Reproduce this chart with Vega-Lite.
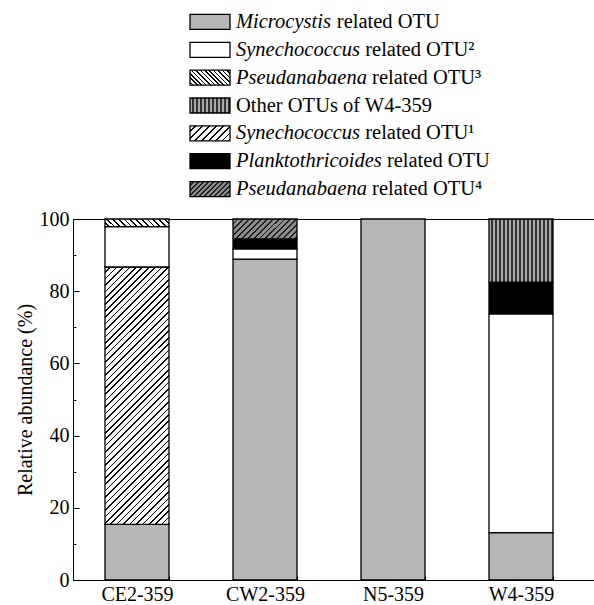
{
"$schema": "https://vega.github.io/schema/vega-lite/v6.json",
"background": "white",
"padding": {"left": 14, "top": 8, "right": 0, "bottom": 0},
"spacing": 5,
"config": {"view": {"stroke": null}, "font": "Liberation Serif, Times New Roman, Times, serif"},
"datasets": {
"bars": [
{"sample":"CE2-359","otu":"Microcystis","value":15.4,"order":1},
{"sample":"CE2-359","otu":"Synechococcus OTU1","value":71.3,"order":2},
{"sample":"CE2-359","otu":"Synechococcus OTU2","value":11.2,"order":3},
{"sample":"CE2-359","otu":"Pseudanabaena OTU3","value":2.1,"order":5},
{"sample":"CW2-359","otu":"Microcystis","value":88.9,"order":1},
{"sample":"CW2-359","otu":"Synechococcus OTU2","value":2.8,"order":3},
{"sample":"CW2-359","otu":"Planktothricoides","value":2.8,"order":4},
{"sample":"CW2-359","otu":"Pseudanabaena OTU4","value":5.5,"order":6},
{"sample":"N5-359","otu":"Microcystis","value":100,"order":1},
{"sample":"W4-359","otu":"Microcystis","value":13.1,"order":1},
{"sample":"W4-359","otu":"Synechococcus OTU2","value":60.6,"order":3},
{"sample":"W4-359","otu":"Planktothricoides","value":8.8,"order":4},
{"sample":"W4-359","otu":"Other OTUs","value":17.5,"order":7}
],
"legend": [
{"item":1,"otu":"Microcystis","name":"Microcystis","rest":"related OTU"},
{"item":2,"otu":"Synechococcus OTU2","name":"Synechococcus","rest":"related OTU²"},
{"item":3,"otu":"Pseudanabaena OTU3","name":"Pseudanabaena","rest":"related OTU³"},
{"item":4,"otu":"Other OTUs","name":"","rest":"Other OTUs of W4-359"},
{"item":5,"otu":"Synechococcus OTU1","name":"Synechococcus","rest":"related OTU¹"},
{"item":6,"otu":"Planktothricoides","name":"Planktothricoides","rest":"related OTU"},
{"item":7,"otu":"Pseudanabaena OTU4","name":"Pseudanabaena","rest":"related OTU⁴"}
]
},
"vconcat": [
{
"width": 274, "height": 195,
"data": {"name": "legend"},
"encoding": {"y": {"field": "item", "type": "ordinal", "axis": null, "scale": {"type": "point", "padding": 0.5}}},
"layer": [
{"mark": {"type": "point", "shape": "M-1,-0.375L1,-0.375L1,0.375L-1,0.375Z", "size": 1600, "filled": true, "opacity": 1, "stroke": "#000", "strokeWidth": 1.3},
 "encoding": {"fill": {"condition": [
  {"test": "datum.otu === 'Synechococcus OTU1'", "value": {"gradient": "linear", "x1": 0, "y1": 0, "x2": 1.2055, "y2": 0.452, "stops": [
{"offset":0,"color":"#fff"},{"offset":0.09,"color":"#fff"},{"offset":0.09,"color":"#000"},{"offset":0.125,"color":"#000"},
{"offset":0.125,"color":"#fff"},{"offset":0.215,"color":"#fff"},{"offset":0.215,"color":"#000"},{"offset":0.25,"color":"#000"},
{"offset":0.25,"color":"#fff"},{"offset":0.34,"color":"#fff"},{"offset":0.34,"color":"#000"},{"offset":0.375,"color":"#000"},
{"offset":0.375,"color":"#fff"},{"offset":0.465,"color":"#fff"},{"offset":0.465,"color":"#000"},{"offset":0.5,"color":"#000"},
{"offset":0.5,"color":"#fff"},{"offset":0.59,"color":"#fff"},{"offset":0.59,"color":"#000"},{"offset":0.625,"color":"#000"},
{"offset":0.625,"color":"#fff"},{"offset":0.715,"color":"#fff"},{"offset":0.715,"color":"#000"},{"offset":0.75,"color":"#000"},
{"offset":0.75,"color":"#fff"},{"offset":0.84,"color":"#fff"},{"offset":0.84,"color":"#000"},{"offset":0.875,"color":"#000"},
{"offset":0.875,"color":"#fff"},{"offset":0.965,"color":"#fff"},{"offset":0.965,"color":"#000"},{"offset":1,"color":"#000"}]}},
  {"test": "datum.otu === 'Synechococcus OTU2'", "value": "#ffffff"},
  {"test": "datum.otu === 'Pseudanabaena OTU3'", "value": {"gradient": "linear", "x1": 1, "y1": 0, "x2": -0.2055, "y2": 0.452, "stops": [
{"offset":0,"color":"#fff"},{"offset":0.05,"color":"#fff"},{"offset":0.05,"color":"#000"},{"offset":0.08,"color":"#000"},
{"offset":0.08,"color":"#fff"},{"offset":0.13,"color":"#fff"},{"offset":0.13,"color":"#000"},{"offset":0.16,"color":"#000"},
{"offset":0.16,"color":"#fff"},{"offset":0.21,"color":"#fff"},{"offset":0.21,"color":"#000"},{"offset":0.24,"color":"#000"},
{"offset":0.24,"color":"#fff"},{"offset":0.29,"color":"#fff"},{"offset":0.29,"color":"#000"},{"offset":0.32,"color":"#000"},
{"offset":0.32,"color":"#fff"},{"offset":0.37,"color":"#fff"},{"offset":0.37,"color":"#000"},{"offset":0.4,"color":"#000"},
{"offset":0.4,"color":"#fff"},{"offset":0.45,"color":"#fff"},{"offset":0.45,"color":"#000"},{"offset":0.48,"color":"#000"},
{"offset":0.48,"color":"#fff"},{"offset":0.53,"color":"#fff"},{"offset":0.53,"color":"#000"},{"offset":0.56,"color":"#000"},
{"offset":0.56,"color":"#fff"},{"offset":0.61,"color":"#fff"},{"offset":0.61,"color":"#000"},{"offset":0.64,"color":"#000"},
{"offset":0.64,"color":"#fff"},{"offset":0.69,"color":"#fff"},{"offset":0.69,"color":"#000"},{"offset":0.72,"color":"#000"},
{"offset":0.72,"color":"#fff"},{"offset":0.77,"color":"#fff"},{"offset":0.77,"color":"#000"},{"offset":0.8,"color":"#000"},
{"offset":0.8,"color":"#fff"},{"offset":0.85,"color":"#fff"},{"offset":0.85,"color":"#000"},{"offset":0.88,"color":"#000"},
{"offset":0.88,"color":"#fff"},{"offset":0.93,"color":"#fff"},{"offset":0.93,"color":"#000"},{"offset":0.96,"color":"#000"},
{"offset":0.96,"color":"#fff"},{"offset":1,"color":"#fff"}]}},
  {"test": "datum.otu === 'Pseudanabaena OTU4'", "value": {"gradient": "linear", "x1": 0, "y1": 0, "x2": 1.2055, "y2": 0.452, "stops": [
{"offset":0,"color":"#8c8c8c"},{"offset":0.06,"color":"#8c8c8c"},{"offset":0.06,"color":"#1e1e1e"},{"offset":0.09,"color":"#1e1e1e"},
{"offset":0.09,"color":"#8c8c8c"},{"offset":0.15,"color":"#8c8c8c"},{"offset":0.15,"color":"#1e1e1e"},{"offset":0.18,"color":"#1e1e1e"},
{"offset":0.18,"color":"#8c8c8c"},{"offset":0.24,"color":"#8c8c8c"},{"offset":0.24,"color":"#1e1e1e"},{"offset":0.27,"color":"#1e1e1e"},
{"offset":0.27,"color":"#8c8c8c"},{"offset":0.33,"color":"#8c8c8c"},{"offset":0.33,"color":"#1e1e1e"},{"offset":0.36,"color":"#1e1e1e"},
{"offset":0.36,"color":"#8c8c8c"},{"offset":0.42,"color":"#8c8c8c"},{"offset":0.42,"color":"#1e1e1e"},{"offset":0.45,"color":"#1e1e1e"},
{"offset":0.45,"color":"#8c8c8c"},{"offset":0.51,"color":"#8c8c8c"},{"offset":0.51,"color":"#1e1e1e"},{"offset":0.54,"color":"#1e1e1e"},
{"offset":0.54,"color":"#8c8c8c"},{"offset":0.6,"color":"#8c8c8c"},{"offset":0.6,"color":"#1e1e1e"},{"offset":0.63,"color":"#1e1e1e"},
{"offset":0.63,"color":"#8c8c8c"},{"offset":0.69,"color":"#8c8c8c"},{"offset":0.69,"color":"#1e1e1e"},{"offset":0.72,"color":"#1e1e1e"},
{"offset":0.72,"color":"#8c8c8c"},{"offset":0.78,"color":"#8c8c8c"},{"offset":0.78,"color":"#1e1e1e"},{"offset":0.81,"color":"#1e1e1e"},
{"offset":0.81,"color":"#8c8c8c"},{"offset":0.87,"color":"#8c8c8c"},{"offset":0.87,"color":"#1e1e1e"},{"offset":0.9,"color":"#1e1e1e"},
{"offset":0.9,"color":"#8c8c8c"},{"offset":0.96,"color":"#8c8c8c"},{"offset":0.96,"color":"#1e1e1e"},{"offset":0.99,"color":"#1e1e1e"},
{"offset":0.99,"color":"#8c8c8c"},{"offset":1,"color":"#8c8c8c"}]}},
  {"test": "datum.otu === 'Planktothricoides'", "value": "#000000"},
  {"test": "datum.otu === 'Other OTUs'", "value": {"gradient": "linear", "x1": 0, "y1": 0, "x2": 1, "y2": 0, "stops": [
{"offset":0,"color":"#aaa"},{"offset":0.055,"color":"#aaa"},{"offset":0.055,"color":"#333"},{"offset":0.1,"color":"#333"},
{"offset":0.1,"color":"#aaa"},{"offset":0.155,"color":"#aaa"},{"offset":0.155,"color":"#333"},{"offset":0.2,"color":"#333"},
{"offset":0.2,"color":"#aaa"},{"offset":0.255,"color":"#aaa"},{"offset":0.255,"color":"#333"},{"offset":0.3,"color":"#333"},
{"offset":0.3,"color":"#aaa"},{"offset":0.355,"color":"#aaa"},{"offset":0.355,"color":"#333"},{"offset":0.4,"color":"#333"},
{"offset":0.4,"color":"#aaa"},{"offset":0.455,"color":"#aaa"},{"offset":0.455,"color":"#333"},{"offset":0.5,"color":"#333"},
{"offset":0.5,"color":"#aaa"},{"offset":0.555,"color":"#aaa"},{"offset":0.555,"color":"#333"},{"offset":0.6,"color":"#333"},
{"offset":0.6,"color":"#aaa"},{"offset":0.655,"color":"#aaa"},{"offset":0.655,"color":"#333"},{"offset":0.7,"color":"#333"},
{"offset":0.7,"color":"#aaa"},{"offset":0.755,"color":"#aaa"},{"offset":0.755,"color":"#333"},{"offset":0.8,"color":"#333"},
{"offset":0.8,"color":"#aaa"},{"offset":0.855,"color":"#aaa"},{"offset":0.855,"color":"#333"},{"offset":0.9,"color":"#333"},
{"offset":0.9,"color":"#aaa"},{"offset":0.955,"color":"#aaa"},{"offset":0.955,"color":"#333"},{"offset":1,"color":"#333"}]}}
 ], "value": "#b6b6b6"}}},
{"mark": {"type": "text", "align": "left", "baseline": "middle", "dx": 26, "font": "Liberation Serif, Times New Roman, Times, serif", "fontSize": 20.5, "fontStyle": "italic", "color": "#000"},
 "encoding": {"text": {"field": "name"}}},
{"transform": [{"filter": "datum.name === 'Microcystis'"}],
 "mark": {"type": "text", "align": "left", "baseline": "middle", "dx": 126.8, "font": "Liberation Serif, Times New Roman, Times, serif", "fontSize": 20.5, "color": "#000"},
 "encoding": {"text": {"field": "rest"}}},
{"transform": [{"filter": "datum.name === 'Synechococcus'"}],
 "mark": {"type": "text", "align": "left", "baseline": "middle", "dx": 155.2, "font": "Liberation Serif, Times New Roman, Times, serif", "fontSize": 20.5, "color": "#000"},
 "encoding": {"text": {"field": "rest"}}},
{"transform": [{"filter": "datum.name === 'Pseudanabaena'"}],
 "mark": {"type": "text", "align": "left", "baseline": "middle", "dx": 162.1, "font": "Liberation Serif, Times New Roman, Times, serif", "fontSize": 20.5, "color": "#000"},
 "encoding": {"text": {"field": "rest"}}},
{"transform": [{"filter": "datum.name === 'Planktothricoides'"}],
 "mark": {"type": "text", "align": "left", "baseline": "middle", "dx": 176.9, "font": "Liberation Serif, Times New Roman, Times, serif", "fontSize": 20.5, "color": "#000"},
 "encoding": {"text": {"field": "rest"}}},
{"transform": [{"filter": "datum.name === ''"}],
 "mark": {"type": "text", "align": "left", "baseline": "middle", "dx": 26, "font": "Liberation Serif, Times New Roman, Times, serif", "fontSize": 20.5, "color": "#000"},
 "encoding": {"text": {"field": "rest"}}}
]
},
{
"width": 524, "height": 361,
"view": {"stroke": "#000", "strokeWidth": 1},
"data": {"name": "bars"},
"transform": [{"stack": "value", "groupby": ["sample"], "sort": [{"field": "order", "order": "ascending"}], "as": ["y0", "y1"]}],
"mark": {"type": "bar", "stroke": "#000", "strokeWidth": 1.3},
"encoding": {
"x": {"field": "sample", "type": "nominal", "sort": null,
 "scale": {"paddingInner": 0.5, "paddingOuter": 0.296875, "align": 0.421},
 "axis": {"title": null, "labelAngle": 0, "labelFont": "Liberation Serif, Times New Roman, Times, serif", "labelFontSize": 20, "labelColor": "#000", "tickBand": "extent", "tickSize": -4, "tickColor": "#000", "domainColor": "#000", "labelPadding": 8}},
"y": {"field": "y0", "type": "quantitative", "scale": {"domain": [0, 100], "nice": false},
 "axis": {"values": [0,10,20,30,40,50,60,70,80,90,100], "labelExpr": "datum.value % 20 === 0 ? datum.label : ''",
  "tickSize": {"condition": {"test": "datum.value % 20 === 0", "value": -6}, "value": -3},
  "labelPadding": 10, "grid": false, "labelFlush": false,
  "title": "Relative abundance (%)", "titleFont": "Liberation Serif, Times New Roman, Times, serif", "titleFontSize": 20, "titleFontWeight": "normal", "titleColor": "#000", "titlePadding": 4,
  "labelFont": "Liberation Serif, Times New Roman, Times, serif", "labelFontSize": 20, "labelColor": "#000", "domainColor": "#000", "tickColor": "#000"}},
"y2": {"field": "y1"},
"fill": {"condition": [
  {"test": "datum.otu === 'Synechococcus OTU1'", "value": {"gradient": "linear", "x1": 0, "y1": 0, "x2": 0.2923, "y2": 1.1759, "stops": [
{"offset":0,"color":"#fff"},{"offset":0.015,"color":"#fff"},{"offset":0.015,"color":"#000"},{"offset":0.02,"color":"#000"},
{"offset":0.02,"color":"#fff"},{"offset":0.035,"color":"#fff"},{"offset":0.035,"color":"#000"},{"offset":0.04,"color":"#000"},
{"offset":0.04,"color":"#fff"},{"offset":0.055,"color":"#fff"},{"offset":0.055,"color":"#000"},{"offset":0.06,"color":"#000"},
{"offset":0.06,"color":"#fff"},{"offset":0.075,"color":"#fff"},{"offset":0.075,"color":"#000"},{"offset":0.08,"color":"#000"},
{"offset":0.08,"color":"#fff"},{"offset":0.095,"color":"#fff"},{"offset":0.095,"color":"#000"},{"offset":0.1,"color":"#000"},
{"offset":0.1,"color":"#fff"},{"offset":0.115,"color":"#fff"},{"offset":0.115,"color":"#000"},{"offset":0.12,"color":"#000"},
{"offset":0.12,"color":"#fff"},{"offset":0.135,"color":"#fff"},{"offset":0.135,"color":"#000"},{"offset":0.14,"color":"#000"},
{"offset":0.14,"color":"#fff"},{"offset":0.155,"color":"#fff"},{"offset":0.155,"color":"#000"},{"offset":0.16,"color":"#000"},
{"offset":0.16,"color":"#fff"},{"offset":0.175,"color":"#fff"},{"offset":0.175,"color":"#000"},{"offset":0.18,"color":"#000"},
{"offset":0.18,"color":"#fff"},{"offset":0.195,"color":"#fff"},{"offset":0.195,"color":"#000"},{"offset":0.2,"color":"#000"},
{"offset":0.2,"color":"#fff"},{"offset":0.215,"color":"#fff"},{"offset":0.215,"color":"#000"},{"offset":0.22,"color":"#000"},
{"offset":0.22,"color":"#fff"},{"offset":0.235,"color":"#fff"},{"offset":0.235,"color":"#000"},{"offset":0.24,"color":"#000"},
{"offset":0.24,"color":"#fff"},{"offset":0.255,"color":"#fff"},{"offset":0.255,"color":"#000"},{"offset":0.26,"color":"#000"},
{"offset":0.26,"color":"#fff"},{"offset":0.275,"color":"#fff"},{"offset":0.275,"color":"#000"},{"offset":0.28,"color":"#000"},
{"offset":0.28,"color":"#fff"},{"offset":0.295,"color":"#fff"},{"offset":0.295,"color":"#000"},{"offset":0.3,"color":"#000"},
{"offset":0.3,"color":"#fff"},{"offset":0.315,"color":"#fff"},{"offset":0.315,"color":"#000"},{"offset":0.32,"color":"#000"},
{"offset":0.32,"color":"#fff"},{"offset":0.335,"color":"#fff"},{"offset":0.335,"color":"#000"},{"offset":0.34,"color":"#000"},
{"offset":0.34,"color":"#fff"},{"offset":0.355,"color":"#fff"},{"offset":0.355,"color":"#000"},{"offset":0.36,"color":"#000"},
{"offset":0.36,"color":"#fff"},{"offset":0.375,"color":"#fff"},{"offset":0.375,"color":"#000"},{"offset":0.38,"color":"#000"},
{"offset":0.38,"color":"#fff"},{"offset":0.395,"color":"#fff"},{"offset":0.395,"color":"#000"},{"offset":0.4,"color":"#000"},
{"offset":0.4,"color":"#fff"},{"offset":0.415,"color":"#fff"},{"offset":0.415,"color":"#000"},{"offset":0.42,"color":"#000"},
{"offset":0.42,"color":"#fff"},{"offset":0.435,"color":"#fff"},{"offset":0.435,"color":"#000"},{"offset":0.44,"color":"#000"},
{"offset":0.44,"color":"#fff"},{"offset":0.455,"color":"#fff"},{"offset":0.455,"color":"#000"},{"offset":0.46,"color":"#000"},
{"offset":0.46,"color":"#fff"},{"offset":0.475,"color":"#fff"},{"offset":0.475,"color":"#000"},{"offset":0.48,"color":"#000"},
{"offset":0.48,"color":"#fff"},{"offset":0.495,"color":"#fff"},{"offset":0.495,"color":"#000"},{"offset":0.5,"color":"#000"},
{"offset":0.5,"color":"#fff"},{"offset":0.515,"color":"#fff"},{"offset":0.515,"color":"#000"},{"offset":0.52,"color":"#000"},
{"offset":0.52,"color":"#fff"},{"offset":0.535,"color":"#fff"},{"offset":0.535,"color":"#000"},{"offset":0.54,"color":"#000"},
{"offset":0.54,"color":"#fff"},{"offset":0.555,"color":"#fff"},{"offset":0.555,"color":"#000"},{"offset":0.56,"color":"#000"},
{"offset":0.56,"color":"#fff"},{"offset":0.575,"color":"#fff"},{"offset":0.575,"color":"#000"},{"offset":0.58,"color":"#000"},
{"offset":0.58,"color":"#fff"},{"offset":0.595,"color":"#fff"},{"offset":0.595,"color":"#000"},{"offset":0.6,"color":"#000"},
{"offset":0.6,"color":"#fff"},{"offset":0.615,"color":"#fff"},{"offset":0.615,"color":"#000"},{"offset":0.62,"color":"#000"},
{"offset":0.62,"color":"#fff"},{"offset":0.635,"color":"#fff"},{"offset":0.635,"color":"#000"},{"offset":0.64,"color":"#000"},
{"offset":0.64,"color":"#fff"},{"offset":0.655,"color":"#fff"},{"offset":0.655,"color":"#000"},{"offset":0.66,"color":"#000"},
{"offset":0.66,"color":"#fff"},{"offset":0.675,"color":"#fff"},{"offset":0.675,"color":"#000"},{"offset":0.68,"color":"#000"},
{"offset":0.68,"color":"#fff"},{"offset":0.695,"color":"#fff"},{"offset":0.695,"color":"#000"},{"offset":0.7,"color":"#000"},
{"offset":0.7,"color":"#fff"},{"offset":0.715,"color":"#fff"},{"offset":0.715,"color":"#000"},{"offset":0.72,"color":"#000"},
{"offset":0.72,"color":"#fff"},{"offset":0.735,"color":"#fff"},{"offset":0.735,"color":"#000"},{"offset":0.74,"color":"#000"},
{"offset":0.74,"color":"#fff"},{"offset":0.755,"color":"#fff"},{"offset":0.755,"color":"#000"},{"offset":0.76,"color":"#000"},
{"offset":0.76,"color":"#fff"},{"offset":0.775,"color":"#fff"},{"offset":0.775,"color":"#000"},{"offset":0.78,"color":"#000"},
{"offset":0.78,"color":"#fff"},{"offset":0.795,"color":"#fff"},{"offset":0.795,"color":"#000"},{"offset":0.8,"color":"#000"},
{"offset":0.8,"color":"#fff"},{"offset":0.815,"color":"#fff"},{"offset":0.815,"color":"#000"},{"offset":0.82,"color":"#000"},
{"offset":0.82,"color":"#fff"},{"offset":0.835,"color":"#fff"},{"offset":0.835,"color":"#000"},{"offset":0.84,"color":"#000"},
{"offset":0.84,"color":"#fff"},{"offset":0.855,"color":"#fff"},{"offset":0.855,"color":"#000"},{"offset":0.86,"color":"#000"},
{"offset":0.86,"color":"#fff"},{"offset":0.875,"color":"#fff"},{"offset":0.875,"color":"#000"},{"offset":0.88,"color":"#000"},
{"offset":0.88,"color":"#fff"},{"offset":0.895,"color":"#fff"},{"offset":0.895,"color":"#000"},{"offset":0.9,"color":"#000"},
{"offset":0.9,"color":"#fff"},{"offset":0.915,"color":"#fff"},{"offset":0.915,"color":"#000"},{"offset":0.92,"color":"#000"},
{"offset":0.92,"color":"#fff"},{"offset":0.935,"color":"#fff"},{"offset":0.935,"color":"#000"},{"offset":0.94,"color":"#000"},
{"offset":0.94,"color":"#fff"},{"offset":0.955,"color":"#fff"},{"offset":0.955,"color":"#000"},{"offset":0.96,"color":"#000"},
{"offset":0.96,"color":"#fff"},{"offset":0.975,"color":"#fff"},{"offset":0.975,"color":"#000"},{"offset":0.98,"color":"#000"},
{"offset":0.98,"color":"#fff"},{"offset":0.995,"color":"#fff"},{"offset":0.995,"color":"#000"},{"offset":1,"color":"#000"}]}},
  {"test": "datum.otu === 'Synechococcus OTU2'", "value": "#ffffff"},
  {"test": "datum.otu === 'Pseudanabaena OTU3'", "value": {"gradient": "linear", "x1": 1, "y1": 0, "x2": -0.1032, "y2": 0.131, "stops": [
{"offset":0,"color":"#fff"},{"offset":0.055,"color":"#fff"},{"offset":0.055,"color":"#000"},{"offset":0.08,"color":"#000"},
{"offset":0.08,"color":"#fff"},{"offset":0.135,"color":"#fff"},{"offset":0.135,"color":"#000"},{"offset":0.16,"color":"#000"},
{"offset":0.16,"color":"#fff"},{"offset":0.215,"color":"#fff"},{"offset":0.215,"color":"#000"},{"offset":0.24,"color":"#000"},
{"offset":0.24,"color":"#fff"},{"offset":0.295,"color":"#fff"},{"offset":0.295,"color":"#000"},{"offset":0.32,"color":"#000"},
{"offset":0.32,"color":"#fff"},{"offset":0.375,"color":"#fff"},{"offset":0.375,"color":"#000"},{"offset":0.4,"color":"#000"},
{"offset":0.4,"color":"#fff"},{"offset":0.455,"color":"#fff"},{"offset":0.455,"color":"#000"},{"offset":0.48,"color":"#000"},
{"offset":0.48,"color":"#fff"},{"offset":0.535,"color":"#fff"},{"offset":0.535,"color":"#000"},{"offset":0.56,"color":"#000"},
{"offset":0.56,"color":"#fff"},{"offset":0.615,"color":"#fff"},{"offset":0.615,"color":"#000"},{"offset":0.64,"color":"#000"},
{"offset":0.64,"color":"#fff"},{"offset":0.695,"color":"#fff"},{"offset":0.695,"color":"#000"},{"offset":0.72,"color":"#000"},
{"offset":0.72,"color":"#fff"},{"offset":0.775,"color":"#fff"},{"offset":0.775,"color":"#000"},{"offset":0.8,"color":"#000"},
{"offset":0.8,"color":"#fff"},{"offset":0.855,"color":"#fff"},{"offset":0.855,"color":"#000"},{"offset":0.88,"color":"#000"},
{"offset":0.88,"color":"#fff"},{"offset":0.935,"color":"#fff"},{"offset":0.935,"color":"#000"},{"offset":0.96,"color":"#000"},
{"offset":0.96,"color":"#fff"},{"offset":1,"color":"#fff"}]}},
  {"test": "datum.otu === 'Pseudanabaena OTU4'", "value": {"gradient": "linear", "x1": 0, "y1": 0, "x2": 1.1957, "y2": 0.3737, "stops": [
{"offset":0,"color":"#8c8c8c"},{"offset":0.048,"color":"#8c8c8c"},{"offset":0.048,"color":"#1e1e1e"},{"offset":0.07,"color":"#1e1e1e"},
{"offset":0.07,"color":"#8c8c8c"},{"offset":0.118,"color":"#8c8c8c"},{"offset":0.118,"color":"#1e1e1e"},{"offset":0.14,"color":"#1e1e1e"},
{"offset":0.14,"color":"#8c8c8c"},{"offset":0.188,"color":"#8c8c8c"},{"offset":0.188,"color":"#1e1e1e"},{"offset":0.21,"color":"#1e1e1e"},
{"offset":0.21,"color":"#8c8c8c"},{"offset":0.258,"color":"#8c8c8c"},{"offset":0.258,"color":"#1e1e1e"},{"offset":0.28,"color":"#1e1e1e"},
{"offset":0.28,"color":"#8c8c8c"},{"offset":0.328,"color":"#8c8c8c"},{"offset":0.328,"color":"#1e1e1e"},{"offset":0.35,"color":"#1e1e1e"},
{"offset":0.35,"color":"#8c8c8c"},{"offset":0.398,"color":"#8c8c8c"},{"offset":0.398,"color":"#1e1e1e"},{"offset":0.42,"color":"#1e1e1e"},
{"offset":0.42,"color":"#8c8c8c"},{"offset":0.468,"color":"#8c8c8c"},{"offset":0.468,"color":"#1e1e1e"},{"offset":0.49,"color":"#1e1e1e"},
{"offset":0.49,"color":"#8c8c8c"},{"offset":0.538,"color":"#8c8c8c"},{"offset":0.538,"color":"#1e1e1e"},{"offset":0.56,"color":"#1e1e1e"},
{"offset":0.56,"color":"#8c8c8c"},{"offset":0.608,"color":"#8c8c8c"},{"offset":0.608,"color":"#1e1e1e"},{"offset":0.63,"color":"#1e1e1e"},
{"offset":0.63,"color":"#8c8c8c"},{"offset":0.678,"color":"#8c8c8c"},{"offset":0.678,"color":"#1e1e1e"},{"offset":0.7,"color":"#1e1e1e"},
{"offset":0.7,"color":"#8c8c8c"},{"offset":0.748,"color":"#8c8c8c"},{"offset":0.748,"color":"#1e1e1e"},{"offset":0.77,"color":"#1e1e1e"},
{"offset":0.77,"color":"#8c8c8c"},{"offset":0.818,"color":"#8c8c8c"},{"offset":0.818,"color":"#1e1e1e"},{"offset":0.84,"color":"#1e1e1e"},
{"offset":0.84,"color":"#8c8c8c"},{"offset":0.888,"color":"#8c8c8c"},{"offset":0.888,"color":"#1e1e1e"},{"offset":0.91,"color":"#1e1e1e"},
{"offset":0.91,"color":"#8c8c8c"},{"offset":0.958,"color":"#8c8c8c"},{"offset":0.958,"color":"#1e1e1e"},{"offset":0.98,"color":"#1e1e1e"},
{"offset":0.98,"color":"#8c8c8c"},{"offset":1,"color":"#8c8c8c"}]}},
  {"test": "datum.otu === 'Planktothricoides'", "value": "#000000"},
  {"test": "datum.otu === 'Other OTUs'", "value": {"gradient": "linear", "x1": 0, "y1": 0, "x2": 1, "y2": 0, "stops": [
{"offset":0,"color":"#aaa"},{"offset":0.035,"color":"#aaa"},{"offset":0.035,"color":"#333"},{"offset":0.0625,"color":"#333"},
{"offset":0.0625,"color":"#aaa"},{"offset":0.0975,"color":"#aaa"},{"offset":0.0975,"color":"#333"},{"offset":0.125,"color":"#333"},
{"offset":0.125,"color":"#aaa"},{"offset":0.16,"color":"#aaa"},{"offset":0.16,"color":"#333"},{"offset":0.1875,"color":"#333"},
{"offset":0.1875,"color":"#aaa"},{"offset":0.2225,"color":"#aaa"},{"offset":0.2225,"color":"#333"},{"offset":0.25,"color":"#333"},
{"offset":0.25,"color":"#aaa"},{"offset":0.285,"color":"#aaa"},{"offset":0.285,"color":"#333"},{"offset":0.3125,"color":"#333"},
{"offset":0.3125,"color":"#aaa"},{"offset":0.3475,"color":"#aaa"},{"offset":0.3475,"color":"#333"},{"offset":0.375,"color":"#333"},
{"offset":0.375,"color":"#aaa"},{"offset":0.41,"color":"#aaa"},{"offset":0.41,"color":"#333"},{"offset":0.4375,"color":"#333"},
{"offset":0.4375,"color":"#aaa"},{"offset":0.4725,"color":"#aaa"},{"offset":0.4725,"color":"#333"},{"offset":0.5,"color":"#333"},
{"offset":0.5,"color":"#aaa"},{"offset":0.535,"color":"#aaa"},{"offset":0.535,"color":"#333"},{"offset":0.5625,"color":"#333"},
{"offset":0.5625,"color":"#aaa"},{"offset":0.5975,"color":"#aaa"},{"offset":0.5975,"color":"#333"},{"offset":0.625,"color":"#333"},
{"offset":0.625,"color":"#aaa"},{"offset":0.66,"color":"#aaa"},{"offset":0.66,"color":"#333"},{"offset":0.6875,"color":"#333"},
{"offset":0.6875,"color":"#aaa"},{"offset":0.7225,"color":"#aaa"},{"offset":0.7225,"color":"#333"},{"offset":0.75,"color":"#333"},
{"offset":0.75,"color":"#aaa"},{"offset":0.785,"color":"#aaa"},{"offset":0.785,"color":"#333"},{"offset":0.8125,"color":"#333"},
{"offset":0.8125,"color":"#aaa"},{"offset":0.8475,"color":"#aaa"},{"offset":0.8475,"color":"#333"},{"offset":0.875,"color":"#333"},
{"offset":0.875,"color":"#aaa"},{"offset":0.91,"color":"#aaa"},{"offset":0.91,"color":"#333"},{"offset":0.9375,"color":"#333"},
{"offset":0.9375,"color":"#aaa"},{"offset":0.9725,"color":"#aaa"},{"offset":0.9725,"color":"#333"},{"offset":1,"color":"#333"}]}}
 ], "value": "#b6b6b6"}
}
}
]
}
